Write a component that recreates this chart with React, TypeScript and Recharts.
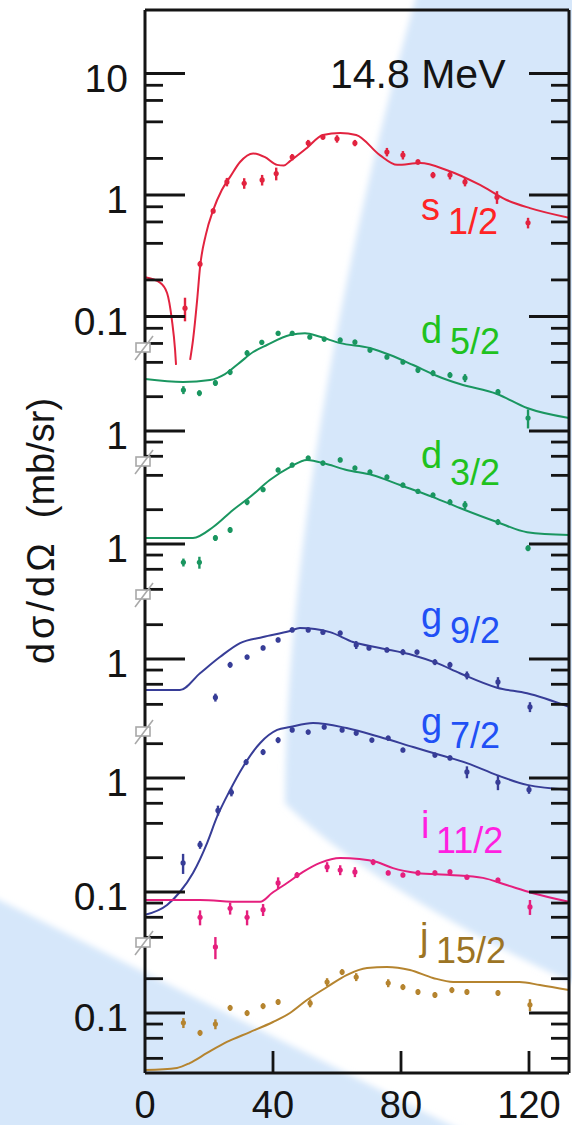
import React from "react";
import { ComposedChart, ErrorBar, Line, Scatter, XAxis, YAxis } from "recharts";

const W = 572;
const H = 1125;
const FONT = '"Liberation Sans", Arial, Helvetica, sans-serif';

// ---- s1/2 (two fit branches around the deep minimum) ----
const s12FitAngA = [0, 4.7, 6.9, 8.4, 9.4, 9.7];
const s12FitA = [0.21, 0.19, 0.156, 0.094, 0.053, 0.04];
const s12FitAngB = [14.1, 15, 16.3, 17.2, 19, 21.3, 24, 26.6, 29.7, 33.8, 37.5, 41.3, 43.4, 45.3, 50.6, 55.6, 61, 66, 73.4, 78.8, 86, 94.4, 104.7, 113, 120.3, 132.5];
const s12FitB = [0.044, 0.064, 0.137, 0.255, 0.47, 0.75, 1.1, 1.41, 1.87, 2.2, 2.05, 1.77, 1.75, 1.9, 2.44, 3.12, 3.24, 3.12, 2.13, 1.77, 1.83, 1.6, 1.21, 0.91, 0.78, 0.65];
const s12Ang = [12.5, 17.2, 21.3, 25.6, 31, 36.6, 41, 46, 51, 55.6, 60, 65.6, 75.6, 80.6, 85.3, 90, 95.3, 100, 110, 119.7];
const s12Val = [0.117, 0.27, 0.74, 1.28, 1.25, 1.33, 1.5, 2.05, 2.68, 3.0, 2.9, 2.68, 2.26, 2.13, 1.87, 1.46, 1.46, 1.28, 0.96, 0.59];
const s12Err = [0.22, 0.06, 0.05, 0.08, 0.1, 0.1, 0.12, 0.06, 0.06, 0.05, 0.07, 0.06, 0.08, 0.08, 0.05, 0.06, 0.08, 0.08, 0.12, 0.1];

// ---- d5/2 ----
const d52FitAng = [0, 11.9, 20.3, 25, 29.7, 33.8, 38.1, 45.3, 50, 54.7, 61, 70.3, 76.6, 83.8, 91.3, 98.4, 110, 119.4, 132.5];
const d52Fit = [2.86, 2.69, 2.8, 3.16, 4.0, 4.93, 5.68, 6.95, 7.2, 6.7, 5.9, 5.35, 4.64, 3.79, 3.04, 2.58, 2.11, 1.59, 1.3];
const d52Ang = [12, 17, 22, 26.6, 31.9, 36.5, 41.6, 46, 51.5, 56, 61, 65.6, 70.3, 75.6, 80.6, 85.3, 90, 95.3, 100, 110.3, 119.7];
const d52Val = [2.29, 2.15, 2.64, 3.29, 4.83, 6.0, 7.2, 7.2, 6.68, 6.4, 6.28, 6.03, 5.13, 4.46, 4.03, 3.43, 3.22, 3.1, 2.92, 2.2, 1.3];
const d52Err = [0.08, 0.06, 0.06, 0.06, 0.06, 0.05, 0.05, 0.05, 0.05, 0.05, 0.05, 0.05, 0.05, 0.05, 0.05, 0.06, 0.06, 0.06, 0.08, 0.06, 0.19];

// ---- d3/2 ----
const d32FitAng = [0, 15, 21.3, 27.5, 32.8, 39, 45.3, 50.6, 57, 63, 71, 79.7, 90, 98.4, 110, 119.4, 132.5];
const d32Fit = [1.13, 1.13, 1.41, 1.99, 2.58, 3.64, 4.73, 5.46, 5.0, 4.46, 4.03, 3.29, 2.58, 2.07, 1.56, 1.27, 1.2];
const d32Ang = [12, 17, 22, 26.6, 31.9, 36.9, 41.6, 46, 51, 55.6, 61, 65.6, 70.3, 75.6, 80.6, 85.3, 90, 95.3, 100, 110.3, 119.7];
const d32Val = [0.69, 0.69, 1.13, 1.33, 2.33, 3.0, 4.46, 4.93, 5.67, 5.13, 5.46, 4.64, 4.28, 3.87, 3.29, 2.9, 2.69, 2.33, 2.2, 1.56, 0.92];
const d32Err = [0.08, 0.12, 0.06, 0.06, 0.06, 0.05, 0.05, 0.05, 0.05, 0.05, 0.05, 0.05, 0.05, 0.05, 0.05, 0.05, 0.05, 0.06, 0.08, 0.06, 0.06];

// ---- g9/2 ----
const g92FitAng = [0, 10.9, 17.2, 23.4, 29.7, 36.9, 45.3, 48.4, 57.8, 65, 73.4, 83.8, 91.3, 98.4, 110, 119.4, 132.5];
const g92Fit = [0.535, 0.535, 0.75, 1.04, 1.38, 1.56, 1.76, 1.87, 1.72, 1.41, 1.25, 1.08, 0.92, 0.75, 0.56, 0.5, 0.38];
const g92Ang = [22, 26.6, 31.9, 36.9, 41.6, 46, 51, 55.6, 61, 66, 70, 75.6, 80.6, 85, 90.6, 95.3, 100.6, 110.3, 120.3];
const g92Val = [0.46, 0.89, 1.04, 1.25, 1.47, 1.8, 1.8, 1.72, 1.69, 1.33, 1.25, 1.2, 1.15, 1.15, 0.94, 0.89, 0.72, 0.63, 0.38];
const g92Err = [0.08, 0.06, 0.05, 0.05, 0.05, 0.05, 0.05, 0.05, 0.05, 0.08, 0.05, 0.05, 0.06, 0.05, 0.06, 0.06, 0.08, 0.1, 0.1];

// ---- g7/2 ----
const g72FitAng = [0, 6.9, 10.9, 15, 19.4, 22.5, 26.6, 30.6, 36, 41.3, 45.3, 52.5, 63, 73.4, 83.8, 92.2, 100.6, 110, 119.4, 132.5];
const g72Fit = [0.063, 0.077, 0.1, 0.147, 0.269, 0.455, 0.785, 1.25, 2.03, 2.64, 2.8, 3.04, 2.74, 2.29, 1.87, 1.59, 1.35, 1.06, 0.87, 0.79];
const g72Ang = [11.9, 17.2, 22.8, 27, 31.6, 36.9, 41.6, 46, 51, 56, 61.6, 66, 70.9, 76, 80.6, 90.6, 95.3, 100.6, 110.3, 120];
const g72Val = [0.18, 0.26, 0.52, 0.75, 1.38, 1.69, 2.15, 2.64, 2.53, 2.8, 2.64, 2.48, 2.15, 2.24, 1.76, 1.59, 1.5, 1.13, 0.92, 0.79];
const g72Err = [0.2, 0.08, 0.1, 0.08, 0.06, 0.06, 0.06, 0.05, 0.05, 0.05, 0.05, 0.05, 0.05, 0.05, 0.05, 0.05, 0.05, 0.12, 0.15, 0.08];

// ---- i11/2 ----
const i112FitAng = [0, 17.2, 29.7, 36, 39.7, 44.4, 49.4, 54.7, 61, 67, 72.5, 77.5, 85, 95.3, 105.6, 113, 121, 132.5];
const i112Fit = [0.085, 0.085, 0.082, 0.082, 0.098, 0.12, 0.15, 0.18, 0.199, 0.195, 0.183, 0.162, 0.147, 0.141, 0.133, 0.115, 0.098, 0.082];
const i112Ang = [17.2, 22, 26.6, 31.9, 36.9, 41.6, 47.5, 56.9, 61, 65.6, 71.3, 76, 80.6, 85.3, 90.6, 95.3, 100.6, 110.3, 120.3];
const i112Val = [0.06, 0.033, 0.072, 0.06, 0.07, 0.12, 0.141, 0.166, 0.156, 0.15, 0.183, 0.147, 0.141, 0.147, 0.147, 0.15, 0.135, 0.127, 0.074];
const i112Err = [0.15, 0.22, 0.12, 0.15, 0.12, 0.12, 0.06, 0.1, 0.1, 0.1, 0.06, 0.05, 0.05, 0.05, 0.05, 0.05, 0.05, 0.05, 0.15];

// ---- j15/2 ----
const j152FitAng = [0, 10, 14, 19.4, 25.6, 32.8, 40, 45.3, 50.6, 56.9, 63, 69.4, 75.6, 82.8, 90, 96.3, 105.6, 117, 123.4, 132.5];
const j152Fit = [0.0316, 0.033, 0.0364, 0.0446, 0.0557, 0.068, 0.0834, 0.1, 0.13, 0.169, 0.215, 0.248, 0.253, 0.238, 0.203, 0.187, 0.187, 0.187, 0.176, 0.159];
const j152Ang = [12, 17.2, 22, 26.6, 31.9, 36.9, 41.6, 51.6, 56.9, 61.6, 66, 76, 80.6, 85.3, 90.6, 95.9, 100.6, 110.3, 120.3];
const j152Val = [0.082, 0.067, 0.08, 0.111, 0.1, 0.115, 0.125, 0.122, 0.187, 0.229, 0.207, 0.183, 0.169, 0.153, 0.144, 0.159, 0.153, 0.15, 0.118];
const j152Err = [0.1, 0.06, 0.1, 0.06, 0.06, 0.06, 0.06, 0.08, 0.08, 0.06, 0.08, 0.08, 0.06, 0.06, 0.06, 0.06, 0.06, 0.06, 0.12];

const xTicks = [0, 40, 80, 120];

// stacked log panels on one linear axis (0 = bottom of frame, 1063 = top):
// base = axis position of 1 mb/sr, decade = length of one decade, lo/hi = tick range
type Panel = { base: number; decade: number; lo: number; hi: number };
const panels: Panel[] = [
  { base: 878, decade: 121.5, lo: 725, hi: 1005 },
  { base: 642, decade: 114, lo: 611, hi: 725 },
  { base: 529, decade: 114, lo: 478, hi: 611 },
  { base: 414, decade: 114, lo: 341, hi: 478 },
  { base: 295, decade: 114, lo: 130, hi: 341 },
  { base: 174, decade: 114, lo: 0, hi: 125 },
];
const toH = (p: Panel, v: number) => p.base + p.decade * Math.log10(v);

const series = [
  { key: "s12", panel: 0, color: "#e2233f", fits: [[s12FitAngA, s12FitA], [s12FitAngB, s12FitB]], ang: s12Ang, val: s12Val, err: s12Err },
  { key: "d52", panel: 1, color: "#1a9660", fits: [[d52FitAng, d52Fit]], ang: d52Ang, val: d52Val, err: d52Err },
  { key: "d32", panel: 2, color: "#1a9660", fits: [[d32FitAng, d32Fit]], ang: d32Ang, val: d32Val, err: d32Err },
  { key: "g92", panel: 3, color: "#373d97", fits: [[g92FitAng, g92Fit]], ang: g92Ang, val: g92Val, err: g92Err },
  { key: "g72", panel: 4, color: "#373d97", fits: [[g72FitAng, g72Fit]], ang: g72Ang, val: g72Val, err: g72Err },
  { key: "i112", panel: 4, color: "#e51f7d", fits: [[i112FitAng, i112Fit]], ang: i112Ang, val: i112Val, err: i112Err },
  { key: "j152", panel: 5, color: "#b5842f", fits: [[j152FitAng, j152Fit]], ang: j152Ang, val: j152Val, err: j152Err },
];

const stateLabels = [
  { l: "s", sub: "1/2", x: 421, y: 220, sx: 448, sy: 234, color: "#ff2424" },
  { l: "d", sub: "5/2", x: 421, y: 343, sx: 450, sy: 354, color: "#1fc21f" },
  { l: "d", sub: "3/2", x: 421, y: 468, sx: 450, sy: 485, color: "#1fc21f" },
  { l: "g", sub: "9/2", x: 421, y: 629, sx: 450, sy: 643, color: "#2150f5" },
  { l: "g", sub: "7/2", x: 421, y: 735, sx: 450, sy: 748, color: "#2150f5" },
  { l: "i", sub: "11/2", x: 421, y: 838, sx: 436, sy: 853, color: "#ff1fe0" },
  { l: "j", sub: "15/2", x: 420, y: 950, sx: 436, sy: 963, color: "#9c7424" },
];

type Tick = { h: number; kind: "major" | "minor" | "break"; label?: string };
const yTicks: Tick[] = [];
panels.forEach((p) => {
  for (let k = -3; k <= 2; k++) {
    [1, 2, 4, 6, 8].forEach((m) => {
      const h = toH(p, m * Math.pow(10, k));
      if (h >= p.lo && h <= p.hi) {
        yTicks.push(m === 1 ? { h, kind: "major", label: String(Math.pow(10, k)) } : { h, kind: "minor" });
      }
    });
  }
});
const breaks: Tick[] = panels.slice(0, -1).map((p) => ({ h: p.lo, kind: "break" }));
const leftTicks = [...yTicks, ...breaks];

const findTick = (list: Tick[], v: number) => list.find((t) => Math.abs(t.h - v) < 1e-6);

const INK = "#141414";

const LeftTick = (props: any) => {
  const { x, y, payload } = props;
  const t = findTick(leftTicks, payload.value);
  if (!t) return null;
  if (t.kind === "break") {
    return (
      <g stroke="#a8a8a8" strokeWidth={1.6}>
        <rect x={x - 9} y={y - 5} width={14} height={9} fill="#fff" />
        <line x1={x - 10} y1={y + 12} x2={x + 8} y2={y - 12} />
      </g>
    );
  }
  const len = t.kind === "major" ? 40 : 18;
  return (
    <g>
      <line x1={x} y1={y} x2={x + len} y2={y} stroke={INK} strokeWidth={2.8} />
      {t.label && (
        <text x={x - 17} y={y + 18} textAnchor="end" fontSize={39} fontFamily={FONT} fill={INK}>
          {t.label}
        </text>
      )}
    </g>
  );
};

const RightTick = (props: any) => {
  const { x, y, payload } = props;
  const t = findTick(yTicks, payload.value);
  if (!t) return null;
  const len = t.kind === "major" ? 40 : 18;
  return <line x1={x} y1={y} x2={x - len} y2={y} stroke={INK} strokeWidth={2.8} />;
};

const BottomTick = (props: any) => {
  const { x, y, payload } = props;
  return (
    <g>
      {payload.value !== 0 && <line x1={x} y1={y} x2={x} y2={y - 22} stroke={INK} strokeWidth={2.8} />}
      <text x={x} y={y + 45} textAnchor="middle" fontSize={38} fontFamily={FONT} fill={INK}>
        {payload.value}
      </text>
    </g>
  );
};

const TopTick = (props: any) => {
  const { x, y, payload } = props;
  if (payload.value === 0) return null;
  return <line x1={x} y1={y} x2={x} y2={y + 22} stroke={INK} strokeWidth={2.8} />;
};

const frame = { stroke: INK, strokeWidth: 3 };

export default function App() {
  const marks = series.flatMap((s) => {
    const p = panels[s.panel];
    const lines = s.fits.map(([angs, vals], j) => (
      <Line
        key={`${s.key}-fit-${j}`}
        yAxisId="L"
        xAxisId="B"
        data={angs.map((a, i) => ({ a, h: toH(p, vals[i]) }))}
        dataKey="h"
        type="monotone"
        stroke={s.color}
        strokeWidth={2}
        dot={false}
        activeDot={false}
        isAnimationActive={false}
      />
    ));
    const pts = s.ang.map((a, i) => {
      const v = s.val[i];
      const h = toH(p, v);
      return { a, h, e: [h - toH(p, v * (1 - s.err[i])), toH(p, v * (1 + s.err[i])) - h] };
    });
    const color = s.color;
    return [
      ...lines,
      <Scatter
        key={`${s.key}-pts`}
        yAxisId="L"
        xAxisId="B"
        data={pts}
        dataKey="h"
        isAnimationActive={false}
        shape={(d: any) => <circle cx={d.cx} cy={d.cy} r={2.6} fill={color} />}
      >
        <ErrorBar dataKey="e" direction="y" width={0} stroke={color} strokeWidth={2.4} isAnimationActive={false} />
      </Scatter>,
    ];
  });

  return (
    <div style={{ position: "absolute", left: 0, top: 0, width: W, height: H, background: "#fff", overflow: "hidden" }}>
      <svg width={W} height={H} style={{ position: "absolute", left: 0, top: 0 }}>
        <defs>
          <filter id="soft" x="-10%" y="-10%" width="120%" height="120%">
            <feGaussianBlur stdDeviation="3" />
          </filter>
        </defs>
        <g fill="#d6e7fa" filter="url(#soft)">
          <path d="M418,-10 L585,-10 L585,988 C470,938 340,860 285,803 C285,600 330,300 418,-10 Z" />
          <path d="M-15,893 C150,975 330,1065 480,1140 L-15,1140 Z" />
        </g>
      </svg>

      <div style={{ position: "absolute", left: 0, top: 0 }}>
        <ComposedChart width={W} height={H} margin={{ top: 9, right: 2, bottom: 51, left: 144 }}>
          <XAxis
            xAxisId="B"
            type="number"
            dataKey="a"
            domain={[0, 132.5]}
            allowDataOverflow
            ticks={xTicks}
            interval={0}
            height={1}
            tickSize={0}
            tickMargin={0}
            tickLine={false}
            axisLine={frame}
            tick={<BottomTick />}
          />
          <XAxis
            xAxisId="T"
            orientation="top"
            type="number"
            domain={[0, 132.5]}
            allowDataOverflow
            ticks={xTicks}
            interval={0}
            height={1}
            tickSize={0}
            tickMargin={0}
            tickLine={false}
            axisLine={frame}
            tick={<TopTick />}
          />
          <YAxis
            yAxisId="L"
            type="number"
            dataKey="h"
            domain={[0, 1063]}
            allowDataOverflow
            ticks={leftTicks.map((t) => t.h)}
            interval={0}
            width={1}
            tickSize={0}
            tickMargin={0}
            tickLine={false}
            axisLine={frame}
            tick={<LeftTick />}
          />
          <YAxis
            yAxisId="R"
            orientation="right"
            type="number"
            domain={[0, 1063]}
            allowDataOverflow
            ticks={yTicks.map((t) => t.h)}
            interval={0}
            width={1}
            tickSize={0}
            tickMargin={0}
            tickLine={false}
            axisLine={frame}
            tick={<RightTick />}
          />
          {marks}
        </ComposedChart>
      </div>

      <svg width={W} height={H} style={{ position: "absolute", left: 0, top: 0, pointerEvents: "none" }} fontFamily={FONT}>
        <text x={330} y={88} fontSize={41} fill={INK}>
          14.8 MeV
        </text>
        <text transform="translate(54,531) rotate(-90)" textAnchor="middle" fontSize={38} fill={INK} style={{ whiteSpace: "pre" }}>
          <tspan letterSpacing={4}>dσ/dΩ</tspan>
          {"  (mb/sr)"}
        </text>
        {stateLabels.map((s, i) => (
          <g key={i} fill={s.color}>
            <text x={s.x} y={s.y} fontSize={38}>
              {s.l}
            </text>
            <text x={s.sx} y={s.sy} fontSize={36}>
              {s.sub}
            </text>
          </g>
        ))}
      </svg>
    </div>
  );
}
